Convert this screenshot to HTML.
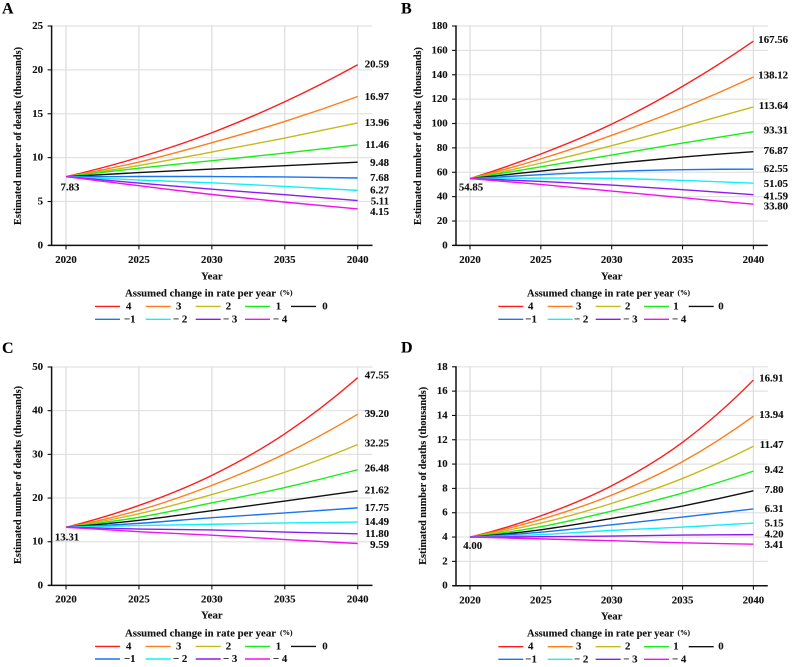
<!DOCTYPE html>
<html lang="en">
<head>
<meta charset="utf-8">
<title>Estimated number of deaths by assumed change in rate per year</title>
<style>
html,body{margin:0;padding:0;background:#fff;}
#figure{display:block;width:800px;height:667px;filter:blur(0.3px);}
text{font-family:"Liberation Serif",serif;font-weight:bold;fill:#111;font-size:10.8px;dominant-baseline:central;stroke:#111;stroke-width:0.12px;}
.panel-letter{font-size:16px;fill:#000;}
.small{font-size:7.5px;}
.y-title{font-size:10px;}
</style>
</head>
<body>
<svg id="figure" xmlns="http://www.w3.org/2000/svg" width="800" height="667" viewBox="0 0 800 667"></svg>
<script>
const years = [2020, 2025, 2030, 2035, 2040];
const rateLabels = ['4', '3', '2', '1', '0', '\u22121', '\u2212 2', '\u2212 3', '\u2212 4'];
const rateColors = ['#ff1c1c', '#ff7d1a', '#c6ba18', '#18ee18', '#111111', '#1a74f2', '#12f0f5', '#8a1cf2', '#f212ee'];

const panelATicks = [0, 5, 10, 15, 20, 25];
const panelAValues = [
  [7.83, 10.03, 12.84, 16.37, 20.59],
  [7.83, 9.5, 11.7, 14.13, 16.97],
  [7.83, 9.1, 10.64, 12.23, 13.96],
  [7.83, 8.8, 9.65, 10.52, 11.46],
  [7.83, 8.3, 8.7, 9.08, 9.48],
  [7.83, 7.85, 7.85, 7.8, 7.68],
  [7.83, 7.45, 7.13, 6.72, 6.27],
  [7.83, 7.1, 6.4, 5.78, 5.11],
  [7.83, 6.8, 5.8, 4.93, 4.15]
];

const panelBTicks = [0, 20, 40, 60, 80, 100, 120, 140, 160, 180];
const panelBValues = [
  [54.85, 75, 99.5, 130.5, 167.56],
  [54.85, 71, 90.3, 112.7, 138.12],
  [54.85, 67.5, 81.8, 97.4, 113.64],
  [54.85, 64.5, 74.1, 84, 93.31],
  [54.85, 61, 67, 72.5, 76.87],
  [54.85, 58, 60.7, 62.1, 62.55],
  [54.85, 55.2, 55, 53.3, 51.05],
  [54.85, 52.5, 49.5, 45.7, 41.59],
  [54.85, 50, 44.6, 39.1, 33.80]
];

const panelCTicks = [0, 10, 20, 30, 40, 50];
const panelCValues = [
  [13.31, 18.3, 25.2, 34.7, 47.55],
  [13.31, 17.2, 22.9, 30.1, 39.20],
  [13.31, 16.4, 20.8, 25.9, 32.25],
  [13.31, 15.6, 18.9, 22.4, 26.48],
  [13.31, 14.9, 17.1, 19.3, 21.62],
  [13.31, 14.2, 15.5, 16.6, 17.75],
  [13.31, 13.7, 14, 14.3, 14.49],
  [13.31, 12.9, 12.7, 12.2, 11.80],
  [13.31, 12.3, 11.5, 10.5, 9.59]
];

const panelDTicks = [0, 2, 4, 6, 8, 10, 12, 14, 16, 18];
const panelDValues = [
  [4.00, 5.74, 8.22, 11.79, 16.91],
  [4.00, 5.45, 7.45, 10.2, 13.94],
  [4.00, 5.15, 6.77, 8.82, 11.47],
  [4.00, 4.85, 6.14, 7.62, 9.42],
  [4.00, 4.6, 5.53, 6.55, 7.80],
  [4.00, 4.4, 5.01, 5.64, 6.31],
  [4.00, 4.2, 4.55, 4.82, 5.15],
  [4.00, 4.03, 4.08, 4.16, 4.20],
  [4.00, 3.85, 3.7, 3.53, 3.41]
];

/* layout only: one entry per panel */
const layouts = [
  {id:'a', letter:'A', lx:2, ly:9, axisX:51.6, x0:66, x1:357.7, right:372.5, top:26, bottom:245.4, tickEnd:43, endX:389, seedX:70, seedDy:10.6, titleX:18.3, titleY:136, xLabY:260, yearY:276.3, legTitle:293.7, row1:306.4, row2:319.3, legT:125, legW:151, pct:280,
    sw1:[95,145.7,195.7,245,291], tx1:[126,176,225.7,275.7,322.3], sw2:[95,145.7,195.7,245], tx2:[124,173,223,273], nudge:[0,0.5,0,0,1,0,0,1,3]},
  {id:'b', letter:'B', lx:401, ly:9, axisX:456, x0:470, x1:753.4, right:767.8, top:26, bottom:245.4, tickEnd:447.7, endX:788, seedX:471, seedDy:9, titleX:418.3, titleY:136, xLabY:260, yearY:276.3, legTitle:293.7, row1:306.4, row2:319.3, legT:527, legW:147, pct:677.5,
    sw1:[498.3,547.7,595.7,644,688.7], tx1:[528,576,625,673.3,718.3], sw2:[498.3,547.7,595.7,644], tx2:[525.3,574,623.3,672], nudge:[-1.3,-1.3,-0.7,-1,-0.7,0,1,2,2.3]},
  {id:'c', letter:'C', lx:2, ly:348.7, axisX:51.6, x0:66, x1:357.7, right:372.5, top:367, bottom:585.4, tickEnd:43, endX:389, seedX:67, seedDy:10, titleX:18.3, titleY:475, xLabY:599.7, yearY:615.7, legTitle:633.4, row1:646.4, row2:659, legT:125, legW:151, pct:280,
    sw1:[95,145.7,195.7,245,291], tx1:[126,176,225.7,275.7,322.3], sw2:[95,145.7,195.7,245], tx2:[124,173,223,273], nudge:[-2,0,-1,-1,-0.7,0,0,0.3,1.3]},
  {id:'d', letter:'D', lx:401, ly:348, axisX:456, x0:470, x1:753.4, right:767.8, top:366.8, bottom:585.7, tickEnd:447.7, endX:783.5, seedX:472.7, seedDy:9, titleX:423.3, titleY:475.8, xLabY:600.7, yearY:616.7, legTitle:633.7, row1:646.7, row2:659.3, legT:527, legW:147, pct:677.5,
    sw1:[498.3,547.7,595.7,644,688.7], tx1:[528,576,625,673.3,718.3], sw2:[498.3,547.7,595.7,644], tx2:[525.3,574,623.3,672], nudge:[-1.7,-1.3,-1.3,-1.3,-0.7,0,0.3,0,1]}
];
const panelTicks = [panelATicks, panelBTicks, panelCTicks, panelDTicks];
const panelValues = [panelAValues, panelBValues, panelCValues, panelDValues];

const NS = 'http://www.w3.org/2000/svg';
const svg = document.getElementById('figure');

function make(parent, tag, attrs) {
  const el = document.createElementNS(NS, tag);
  for (const k in attrs) el.setAttribute(k, attrs[k]);
  parent.appendChild(el);
  return el;
}
/* Catmull-Rom through the points; end tangents use a quadratic extension so the curve stays smooth */
function smoothPath(pts) {
  const n = pts.length;
  const ext = (a, b, c) => [3 * a[0] - 3 * b[0] + c[0], 3 * a[1] - 3 * b[1] + c[1]];
  const at = i => i < 0 ? ext(pts[0], pts[1], pts[2]) : i >= n ? ext(pts[n - 1], pts[n - 2], pts[n - 3]) : pts[i];
  let d = 'M' + pts[0][0].toFixed(2) + ' ' + pts[0][1].toFixed(2);
  for (let i = 0; i < n - 1; i++) {
    const p0 = at(i - 1), p1 = at(i), p2 = at(i + 1), p3 = at(i + 2);
    const c1x = p1[0] + (p2[0] - p0[0]) / 6, c1y = p1[1] + (p2[1] - p0[1]) / 6;
    const c2x = p2[0] - (p3[0] - p1[0]) / 6, c2y = p2[1] - (p3[1] - p1[1]) / 6;
    d += 'C' + [c1x, c1y, c2x, c2y, p2[0], p2[1]].map(v => v.toFixed(2)).join(' ');
  }
  return d;
}

layouts.forEach(function (L, pi) {
  const ticks = panelTicks[pi];
  const values = panelValues[pi];
  const yMax = ticks[ticks.length - 1];
  const xScale = v => L.x0 + (v - years[0]) / (years[years.length - 1] - years[0]) * (L.x1 - L.x0);
  const yScale = v => L.bottom - v / yMax * (L.bottom - L.top);

  const g = make(svg, 'g', {});
  
  

  const letter = make(g, 'text', {x: L.lx, y: L.ly, 'class': 'panel-letter'});
  letter.textContent = L.letter;
  
  

  ticks.forEach(function (t) {
    const y = yScale(t);
    if (t !== 0) {
      const grid = make(g, 'line', {x1: L.axisX, x2: L.right, y1: y, y2: y, stroke: '#e2e2e2', 'stroke-width': 1.2});
      
      
    }
  });
  years.forEach(function (yr) {
    const x = xScale(yr);
    const grid = make(g, 'line', {x1: x, x2: x, y1: L.top, y2: L.bottom, stroke: '#dcdcdc', 'stroke-width': 1.2});
    
    
  });

  values.forEach(function (series, si) {
    const pts = series.map((v, i) => [xScale(years[i]), yScale(v)]);
    const line = make(g, 'path', {d: smoothPath(pts), fill: 'none', stroke: rateColors[si], 'stroke-width': 1.4});
    
    
    const endValue = series[series.length - 1];
    const end = make(g, 'text', {x: L.endX, y: yScale(endValue) + L.nudge[si], 'text-anchor': 'end'});
    end.textContent = endValue.toFixed(2);
    
    
  });

  const seedValue = values[0][0];
  const seed = make(g, 'text', {x: L.seedX, y: yScale(seedValue) + L.seedDy, 'text-anchor': 'middle'});
  seed.textContent = seedValue.toFixed(2);
  
  

  const yAxis = make(g, 'line', {x1: L.axisX, x2: L.axisX, y1: L.top - 0.6, y2: L.bottom + 0.6, stroke: '#111', 'stroke-width': 1.5});
  
  
  const xAxis = make(g, 'line', {x1: L.axisX - 3.5, x2: L.right, y1: L.bottom, y2: L.bottom, stroke: '#111', 'stroke-width': 1.5});
  
  

  ticks.forEach(function (t) {
    const y = yScale(t);
    const mark = make(g, 'line', {x1: L.axisX - 4, x2: L.axisX, y1: y, y2: y, stroke: '#111', 'stroke-width': 1.1});
    
    
    const lab = make(g, 'text', {x: L.tickEnd, y: y, 'text-anchor': 'end'});
    lab.textContent = String(t);
    
    
  });
  years.forEach(function (yr) {
    const x = xScale(yr);
    const mark = make(g, 'line', {x1: x, x2: x, y1: L.bottom, y2: L.bottom + 4, stroke: '#111', 'stroke-width': 1.1});
    
    
    const lab = make(g, 'text', {x: x, y: L.xLabY, 'text-anchor': 'middle'});
    lab.textContent = String(yr);
    
    
  });

  const yTitle = make(g, 'text', {x: L.titleX, y: L.titleY, 'text-anchor': 'middle', 'class': 'y-title', textLength: 178, lengthAdjust: 'spacingAndGlyphs', transform: 'rotate(-90 ' + L.titleX + ' ' + L.titleY + ')'});
  yTitle.textContent = 'Estimated number of deaths (thousands)';
  
  

  const xTitle = make(g, 'text', {x: (L.x0 + L.x1) / 2, y: L.yearY, 'text-anchor': 'middle'});
  xTitle.textContent = 'Year';
  
  

  const legTitle = make(g, 'text', {x: L.legT, y: L.legTitle, textLength: L.legW, lengthAdjust: 'spacingAndGlyphs'});
  legTitle.textContent = 'Assumed change in rate per year';
  
  
  const pct = make(g, 'text', {x: L.pct, y: L.legTitle - 1, 'class': 'small'});
  pct.textContent = '(%)';
  
  

  rateLabels.forEach(function (label, si) {
    const inFirst = si < 5;
    const idx = inFirst ? si : si - 5;
    const sx = inFirst ? L.sw1[idx] : L.sw2[idx];
    const tx = inFirst ? L.tx1[idx] : L.tx2[idx];
    const rowY = inFirst ? L.row1 : L.row2;
    const swatch = make(g, 'line', {x1: sx, x2: sx + 25, y1: rowY, y2: rowY, stroke: rateColors[si], 'stroke-width': 1.4});
    
    
    const text = make(g, 'text', {x: tx, y: rowY});
    text.textContent = label;
    
    
  });
});
</script>
</body>
</html>
